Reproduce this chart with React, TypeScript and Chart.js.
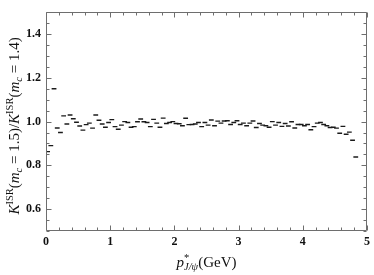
import React, { useEffect, useRef } from 'react';
import { Chart, registerables } from 'chart.js';

Chart.register(...registerables);

// bin width in GeV; point i sits at the centre of bin i
const BIN_WIDTH = 0.05;
// K^ISR(mc=1.5)/K^ISR(mc=1.4) per bin
const RATIO = [
  0.863, 0.89, 1.15, 0.971, 0.95, 1.026, 0.989, 1.03, 1.013, 0.997,
  0.98, 0.961, 0.986, 0.993, 0.97, 1.03, 1.006, 0.989, 0.974, 0.996,
  1.009, 0.977, 0.965, 0.984, 1.0, 0.996, 0.974, 0.977, 0.999, 1.012,
  0.999, 0.996, 0.977, 1.01, 0.993, 0.974, 1.016, 0.991, 0.996, 1.0,
  0.991, 0.99, 0.981, 1.015, 0.986, 0.987, 0.989, 0.996, 0.977, 0.996,
  0.984, 1.007, 0.981, 1.002, 0.993, 1.003, 1.004, 0.987, 0.996, 1.004,
  0.987, 0.993, 0.981, 0.993, 1.003, 0.973, 0.991, 0.984, 0.981, 0.974,
  1.0, 0.984, 0.996, 0.978, 0.991, 0.98, 0.999, 0.971, 0.987, 0.987,
  0.981, 0.987, 0.963, 0.977, 0.993, 0.996, 0.987, 0.981, 0.973, 0.974,
  0.97, 0.947, 0.978, 0.942, 0.952, 0.915, 0.838,
];

const X_RANGE = [0, 5];
const Y_RANGE = [0.5, 1.5];
const X_MAJOR = [0, 1, 2, 3, 4, 5];
const X_MINOR_STEP = 0.2;
const Y_MAJOR = [0.6, 0.8, 1.0, 1.2, 1.4];
const Y_MINOR_STEP = 0.05;

const SERIF = '"Liberation Serif", "DejaVu Serif", serif';

type Seg = { t: string; font: string; dy: number; stackWithNext?: boolean };

function drawSegs(ctx: CanvasRenderingContext2D, segs: Seg[], cx: number, cy: number) {
  const widths: number[] = [];
  let total = 0;
  for (let i = 0; i < segs.length; i++) {
    ctx.font = segs[i].font;
    widths.push(ctx.measureText(segs[i].t).width);
  }
  for (let i = 0; i < segs.length; i++) {
    if (segs[i].stackWithNext) {
      total += Math.max(widths[i], widths[i + 1]);
      i++;
    } else total += widths[i];
  }
  let x = cx - total / 2;
  for (let i = 0; i < segs.length; i++) {
    const s = segs[i];
    ctx.font = s.font;
    ctx.fillText(s.t, x, cy + s.dy);
    if (s.stackWithNext) {
      const n = segs[i + 1];
      ctx.font = n.font;
      ctx.fillText(n.t, x, cy + n.dy);
      x += Math.max(widths[i], widths[i + 1]);
      i++;
    } else x += widths[i];
  }
}

const framePlugin = {
  id: 'frameTicks',
  afterDraw(chart: any) {
    const { ctx, chartArea: a, scales } = chart;
    const xs = scales.x;
    const ys = scales.y;
    ctx.save();
    ctx.strokeStyle = '#6e6e6e';
    ctx.lineWidth = 1;
    const L = Math.round(a.left) + 0.5;
    const R = Math.round(a.right) - 0.5;
    const T = Math.round(a.top) + 0.5;
    const B = Math.round(a.bottom) - 0.5;
    ctx.beginPath();
    ctx.rect(L, T, R - L, B - T);
    ctx.stroke();
    ctx.beginPath();
    const isMajor = (v: number, arr: number[]) => arr.some((m) => Math.abs(m - v) < 1e-6);
    for (let v = X_RANGE[0]; v <= X_RANGE[1] + 1e-9; v += X_MINOR_STEP) {
      const px = Math.round(xs.getPixelForValue(v)) + 0.5;
      const len = isMajor(v, X_MAJOR) ? 5 : 3;
      ctx.moveTo(px, B);
      ctx.lineTo(px, B - len);
      ctx.moveTo(px, T);
      ctx.lineTo(px, T + len);
    }
    for (let v = Y_RANGE[0]; v <= Y_RANGE[1] + 1e-9; v += Y_MINOR_STEP) {
      const py = Math.round(ys.getPixelForValue(v)) + 0.5;
      const len = isMajor(v, Y_MAJOR) ? 5 : 3;
      ctx.moveTo(L, py);
      ctx.lineTo(L + len, py);
      ctx.moveTo(R, py);
      ctx.lineTo(R - len, py);
    }
    ctx.stroke();

    ctx.fillStyle = '#111';
    ctx.textBaseline = 'alphabetic';
    ctx.textAlign = 'left';
    const main = `15px ${SERIF}`;
    const it = `italic 15px ${SERIF}`;
    const small = `10.5px ${SERIF}`;
    const smallIt = `italic 10.5px ${SERIF}`;

    drawSegs(
      ctx,
      [
        { t: 'p', font: it, dy: 0 },
        { t: '*', font: small, dy: -6, stackWithNext: true },
        { t: 'J/ψ', font: smallIt, dy: 3 },
        { t: '(GeV)', font: main, dy: 0 },
      ],
      (a.left + a.right) / 2,
      267
    );

    ctx.translate(19, 126);
    ctx.rotate(-Math.PI / 2);
    drawSegs(
      ctx,
      [
        { t: 'K', font: it, dy: 0 },
        { t: 'ISR', font: small, dy: -6 },
        { t: '(', font: main, dy: 0 },
        { t: 'm', font: it, dy: 0 },
        { t: 'c', font: smallIt, dy: 3 },
        { t: ' = 1.5)/', font: main, dy: 0 },
        { t: 'K', font: it, dy: 0 },
        { t: 'ISR', font: small, dy: -6 },
        { t: '(', font: main, dy: 0 },
        { t: 'm', font: it, dy: 0 },
        { t: 'c', font: smallIt, dy: 3 },
        { t: ' = 1.4)', font: main, dy: 0 },
      ],
      0,
      0
    );
    ctx.restore();
  },
};

export default function App() {
  const ref = useRef<HTMLCanvasElement | null>(null);
  useEffect(() => {
    document.body.style.margin = '0';
    const canvas = ref.current!;
    const points = RATIO.map((v, i) => ({ x: (i + 0.5) * BIN_WIDTH, y: v }));
    const chart = new Chart(canvas, {
      type: 'scatter',
      data: {
        datasets: [
          {
            data: points,
            pointStyle: 'line',
            pointRadius: 2.4,
            pointHoverRadius: 2.4,
            borderColor: '#1a1a1a',
            backgroundColor: '#1a1a1a',
            pointBorderWidth: 1.4,
            borderWidth: 1.4,
          },
        ],
      },
      options: {
        responsive: false,
        animation: false,
        events: [],
        layout: { padding: { left: 0, right: 4, top: 1, bottom: 0 } },
        plugins: { legend: { display: false }, tooltip: { enabled: false } },
        scales: {
          x: {
            type: 'linear',
            min: X_RANGE[0],
            max: X_RANGE[1],
            border: { display: false },
            grid: { display: false, drawTicks: false },
            afterBuildTicks: (s: any) => {
              s.ticks = X_MAJOR.map((v) => ({ value: v }));
            },
            afterFit: (s: any) => {
              s.height = 44;
            },
            ticks: {
              padding: 4,
              color: '#111',
              font: { family: SERIF, size: 12, weight: 'bold' },
              callback: (v: any) => String(Math.round(Number(v))),
              maxRotation: 0,
            },
          },
          y: {
            type: 'linear',
            min: Y_RANGE[0],
            max: Y_RANGE[1],
            border: { display: false },
            grid: { display: false, drawTicks: false },
            afterBuildTicks: (s: any) => {
              s.ticks = Y_MAJOR.map((v) => ({ value: v }));
            },
            afterFit: (s: any) => {
              s.width = 46;
            },
            ticks: {
              padding: 5,
              color: '#111',
              font: { family: SERIF, size: 12, weight: 'bold' },
              callback: (v: any) => Number(v).toFixed(1),
            },
          },
        },
      },
      plugins: [framePlugin],
    });
    return () => chart.destroy();
  }, []);
  return (
    <div style={{ position: 'absolute', left: 0, top: 0, width: 374, height: 275 }}>
      <canvas ref={ref} width={374} height={275} style={{ width: 374, height: 275 }} />
    </div>
  );
}
